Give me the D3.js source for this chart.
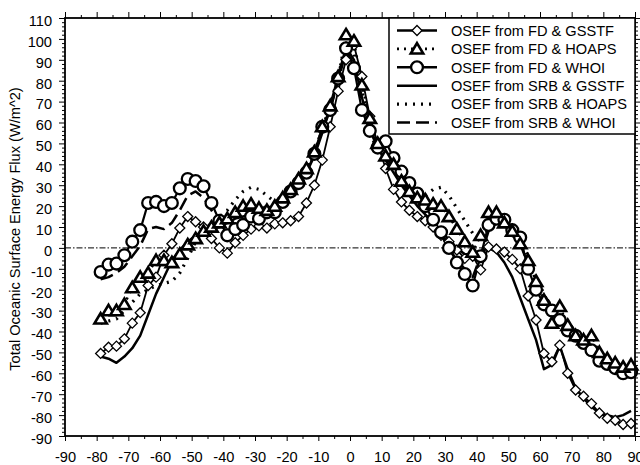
<!DOCTYPE html>
<html>
<head>
<meta charset="utf-8">
<script src="https://cdn.jsdelivr.net/npm/d3@7/dist/d3.min.js"></script>
<style>
body { margin: 0; background: #fff; }
text { font-family: "Liberation Sans", Arial, Helvetica, sans-serif; font-size: 14.6px; fill: #000; }
</style>
</head>
<body>
<div id="chart"></div>
<script>
// latitude bins (2.5 deg centres)
var lats = [-78.75, -76.25, -73.75, -71.25, -68.75, -66.25, -63.75, -61.25, -58.75, -56.25,
            -53.75, -51.25, -48.75, -46.25, -43.75, -41.25, -38.75, -36.25, -33.75, -31.25,
            -28.75, -26.25, -23.75, -21.25, -18.75, -16.25, -13.75, -11.25, -8.75, -6.25,
            -3.75, -1.25, 1.25, 3.75, 6.25, 8.75, 11.25, 13.75, 16.25, 18.75,
            21.25, 23.75, 26.25, 28.75, 31.25, 33.75, 36.25, 38.75, 41.25, 43.75,
            46.25, 48.75, 51.25, 53.75, 56.25, 58.75, 61.25, 63.75, 66.25, 68.75,
            71.25, 73.75, 76.25, 78.75, 81.25, 83.75, 86.25, 88.75];

// OSEF series (W/m^2)
var fdGsstf = [-50.5, -47.5, -47, -43.5, -36, -31, -18, -14, -3.5, 2,
               9.5, 15, 12.5, 10, 4.5, 0, -2.5, 2.5, 6, 9,
               10.5, 9.5, 11.5, 12, 13, 15, 21.5, 30, 42, 58,
               75, 90, 97, 82, 63, 50, 38, 28, 22, 18,
               15, 13, 10, 6, 3, -1, -5, -4, -10.5, 0.5,
               -0.5, -2, -5.5, -10, -23, -34.5, -50.5, -54.5, -46.5, -60,
               -68, -71, -74.5, -79, -81.5, -82.5, -84.5, -84];

var fdHoaps = [-34, -30, -30, -27, -19, -14, -12, -6, -6, -7,
               -3, 1.5, 4.5, 8, 10, 12, 14, 17, 20, 21,
               19, 18, 20, 24, 28, 33, 38, 46, 58, 68,
               82, 102, 99, 78, 62, 50, 44, 40, 32, 27,
               24, 23, 21, 20, 15, 9, 3, -2, 6, 17,
               17, 12, 8, 2, -6, -16, -25, -36, -28, -37,
               -42, -44, -42, -50, -53, -55, -57, -56];

var fdWhoi = [-11.5, -8, -7.5, -3.5, 3, 8.5, 21.5, 22, 20, 21.5,
              28.5, 33, 32, 29.5, 21.5, 13, 6, 9, 11, 15,
              14, 17, 17, 22, 27, 31, 36, 45, 58, 66,
              81, 95.5, 86, 66, 56, 48, 51, 43, 36.5, 31,
              26, 20, 13.5, 7.5, 0, -7, -12.5, -18, -4, 11,
              14, 13.5, 8.5, 5, -10, -20, -27, -30, -34.5, -39.5,
              -42, -45.5, -49, -54, -55.5, -57.5, -60, -59.5];

var srbGsstf = [-52, -53, -55, -52, -48, -42, -32, -22, -14, -6,
                -1, 3, 6, 8, 9, 10, 12, 14, 15, 16,
                16, 17, 18, 22, 26, 30, 36, 44, 55, 68,
                82, 96, 90, 72, 58, 48, 42, 36, 30, 25,
                20, 16, 12, 8, 4, 0, -3, -3, -2, 0,
                -2, -7, -14, -24, -34, -44, -58, -56, -47, -58,
                -67, -72, -76, -79, -80, -81, -80, -78];

var srbHoaps = [-36, -35, -34, -30, -26, -22, -20, -18, -17, -16,
                -12, -5, 3, 8, 12, 15, 18, 23, 27, 29,
                28, 25, 22, 24, 27, 31, 37, 45, 57, 68,
                82, 98, 93, 75, 60, 50, 44, 38, 32, 27,
                24, 25, 28, 29, 25, 19, 13, 7, 3, 9,
                14, 12, 8, 4, -4, -14, -22, -30, -33, -38,
                -42, -46, -50, -54, -56, -58, -58, -57];

var srbWhoi = [-15, -14, -12, -9, -4, 1, 9, 10, 9, 12,
               18, 25, 27, 24, 18, 12, 8, 10, 12, 14,
               15, 16, 18, 22, 27, 31, 37, 45, 56, 66,
               80, 94, 88, 70, 55, 46, 45, 40, 34, 29,
               24, 18, 12, 6, 0, -6, -10, -14, -4, 8,
               12, 12, 6, 2, -8, -18, -25, -29, -33, -38,
               -41, -44, -48, -53, -55, -57, -59, -58];

var seriesNames = ["OSEF from FD & GSSTF", "OSEF from FD & HOAPS", "OSEF from FD & WHOI",
                   "OSEF from SRB & GSSTF", "OSEF from SRB & HOAPS", "OSEF from SRB & WHOI"];

var xTickValues = [-90, -80, -70, -60, -50, -40, -30, -20, -10, 0, 10, 20, 30, 40, 50, 60, 70, 80, 90];
var yTickValues = [-90, -80, -70, -60, -50, -40, -30, -20, -10, 0, 10, 20, 30, 40, 50, 60, 70, 80, 90, 100, 110];

var yTitle = "Total Oceanic Surface Energy Flux (W/m^2)";

// styles for each series, same order as names
var series = [
    { name: seriesNames[0], values: fdGsstf,  marker: "diamond",  dash: null,   width: 1.8 },
    { name: seriesNames[1], values: fdHoaps,  marker: "triangle", dash: "2,5",  width: 2.5 },
    { name: seriesNames[2], values: fdWhoi,   marker: "circle",   dash: null,   width: 2.2 },
    { name: seriesNames[3], values: srbGsstf, marker: null,       dash: null,   width: 2.5 },
    { name: seriesNames[4], values: srbHoaps, marker: null,       dash: "2,6",  width: 3.2 },
    { name: seriesNames[5], values: srbWhoi,  marker: null,       dash: "13,6", width: 2.5 }
];

var svgWidth = 640, svgHeight = 465;
var plotLeft = 65, plotRight = 635, plotTop = 18, plotBottom = 436;

var svg = d3.select("#chart").append("svg")
    .attr("width", svgWidth)
    .attr("height", svgHeight)
    .style("background", "#fff");

var x = d3.scaleLinear().domain([-90, 90]).range([plotLeft, plotRight]);
var y = d3.scaleLinear().domain([-90, 110]).range([plotBottom, plotTop]);

var xMinor = d3.range(-85, 90, 10);
var yMinor = d3.range(-90, 111, 2).filter(function(v) { return v % 10 !== 0; });

// plain hyphen minus like the original
function fmt(d) { return String(d); }

function styleAxis(g) {
    g.select(".domain").remove();
    g.selectAll("line").attr("stroke", "#000").attr("stroke-width", 1);
}

// major + minor ticks on all four sides, pointing outward
svg.append("g").attr("transform", "translate(0," + plotBottom + ")")
    .call(d3.axisBottom(x).tickValues(xTickValues).tickFormat(fmt).tickSize(5).tickSizeOuter(0).tickPadding(11))
    .call(styleAxis);
svg.append("g").attr("transform", "translate(0," + plotBottom + ")")
    .call(d3.axisBottom(x).tickValues(xMinor).tickSize(3).tickFormat(""))
    .call(styleAxis);
svg.append("g").attr("transform", "translate(0," + plotTop + ")")
    .call(d3.axisTop(x).tickValues(xTickValues).tickSize(6).tickFormat(""))
    .call(styleAxis);
svg.append("g").attr("transform", "translate(0," + plotTop + ")")
    .call(d3.axisTop(x).tickValues(xMinor).tickSize(3).tickFormat(""))
    .call(styleAxis);

svg.append("g").attr("transform", "translate(" + plotLeft + ",0)")
    .call(d3.axisLeft(y).tickValues(yTickValues).tickFormat(fmt).tickSize(6).tickSizeOuter(0).tickPadding(7))
    .call(styleAxis)
    .selectAll("text").attr("dy", "0.5em");
svg.append("g").attr("transform", "translate(" + plotLeft + ",0)")
    .call(d3.axisLeft(y).tickValues(yMinor).tickSize(3).tickFormat(""))
    .call(styleAxis);
svg.append("g").attr("transform", "translate(" + plotRight + ",0)")
    .call(d3.axisRight(y).tickValues(yTickValues).tickSize(6).tickFormat(""))
    .call(styleAxis);
svg.append("g").attr("transform", "translate(" + plotRight + ",0)")
    .call(d3.axisRight(y).tickValues(yMinor).tickSize(3).tickFormat(""))
    .call(styleAxis);

svg.selectAll(".tick text")
    .attr("fill", "#000")
    .style("font-size", "14.6px")
    .style("font-family", "'Liberation Sans', Arial, Helvetica, sans-serif");

// y title
svg.append("text")
    .attr("transform", "translate(20," + ((plotTop + plotBottom) / 2 + 2) + ") rotate(-90)")
    .attr("text-anchor", "middle")
    .text(yTitle);

// zero line
svg.append("line")
    .attr("x1", plotLeft).attr("x2", plotRight)
    .attr("y1", y(0)).attr("y2", y(0))
    .attr("stroke", "#000").attr("stroke-width", 1)
    .attr("stroke-dasharray", "6,2,1.5,2");

var line = d3.line()
    .x(function(d) { return x(d[0]); })
    .y(function(d) { return y(d[1]); });

function pairs(vals) {
    return lats.map(function(l, i) { return [l, vals[i]]; });
}

// lines: SRB first, then FD
var lineOrder = [3, 4, 5, 0, 1, 2];
lineOrder.forEach(function(k) {
    var s = series[k];
    svg.append("path")
        .datum(pairs(s.values))
        .attr("d", line)
        .attr("fill", "none")
        .attr("stroke", "#000")
        .attr("stroke-width", s.width)
        .attr("stroke-linejoin", "round")
        .attr("stroke-dasharray", s.dash);
});

var markerPath = {
    diamond: "M0,-5L5,0L0,5L-5,0Z",
    triangle: "M0,-5.8L6.2,4.6L-6.2,4.6Z"
};

function drawMarker(g, type) {
    if (type === "circle") {
        g.append("circle").attr("r", 5.9)
            .attr("fill", "#fff").attr("stroke", "#000").attr("stroke-width", 2.3);
    } else if (type === "diamond") {
        g.append("path").attr("d", markerPath.diamond)
            .attr("fill", "#fff").attr("stroke", "#000").attr("stroke-width", 1.3);
    } else if (type === "triangle") {
        g.append("path").attr("d", markerPath.triangle)
            .attr("fill", "#fff").attr("stroke", "#000").attr("stroke-width", 2.6)
            .attr("stroke-linejoin", "miter");
    }
}

// markers: diamonds, circles, then triangles on top
[0, 2, 1].forEach(function(k) {
    var s = series[k];
    svg.append("g").selectAll("g")
        .data(pairs(s.values))
      .enter().append("g")
        .attr("transform", function(d) { return "translate(" + x(d[0]) + "," + y(d[1]) + ")"; })
        .each(function() { drawMarker(d3.select(this), s.marker); });
});

// frame
svg.append("rect")
    .attr("x", plotLeft).attr("y", plotTop)
    .attr("width", plotRight - plotLeft).attr("height", plotBottom - plotTop)
    .attr("fill", "none").attr("stroke", "#000").attr("stroke-width", 1.8);

// legend
var legX = 389, legY = plotTop, legW = plotRight - 389, legH = 116;
var legend = svg.append("g");
legend.append("rect")
    .attr("x", legX).attr("y", legY)
    .attr("width", legW).attr("height", legH)
    .attr("fill", "#fff").attr("stroke", "#000").attr("stroke-width", 1.5);

series.forEach(function(s, i) {
    var cy = 30.5 + i * 18.4;
    var row = legend.append("g");
    row.append("line")
        .attr("x1", 397).attr("x2", 437)
        .attr("y1", cy).attr("y2", cy)
        .attr("stroke", "#000")
        .attr("stroke-width", i < 3 ? 2.6 : s.width)
        .attr("stroke-dasharray", s.dash);
    if (s.marker) {
        var m = row.append("g").attr("transform", "translate(417," + cy + ")");
        drawMarker(m, s.marker);
    }
    row.append("text")
        .attr("x", 451).attr("y", cy)
        .attr("dy", "0.36em")
        .text(s.name);
});
</script>
</body>
</html>
